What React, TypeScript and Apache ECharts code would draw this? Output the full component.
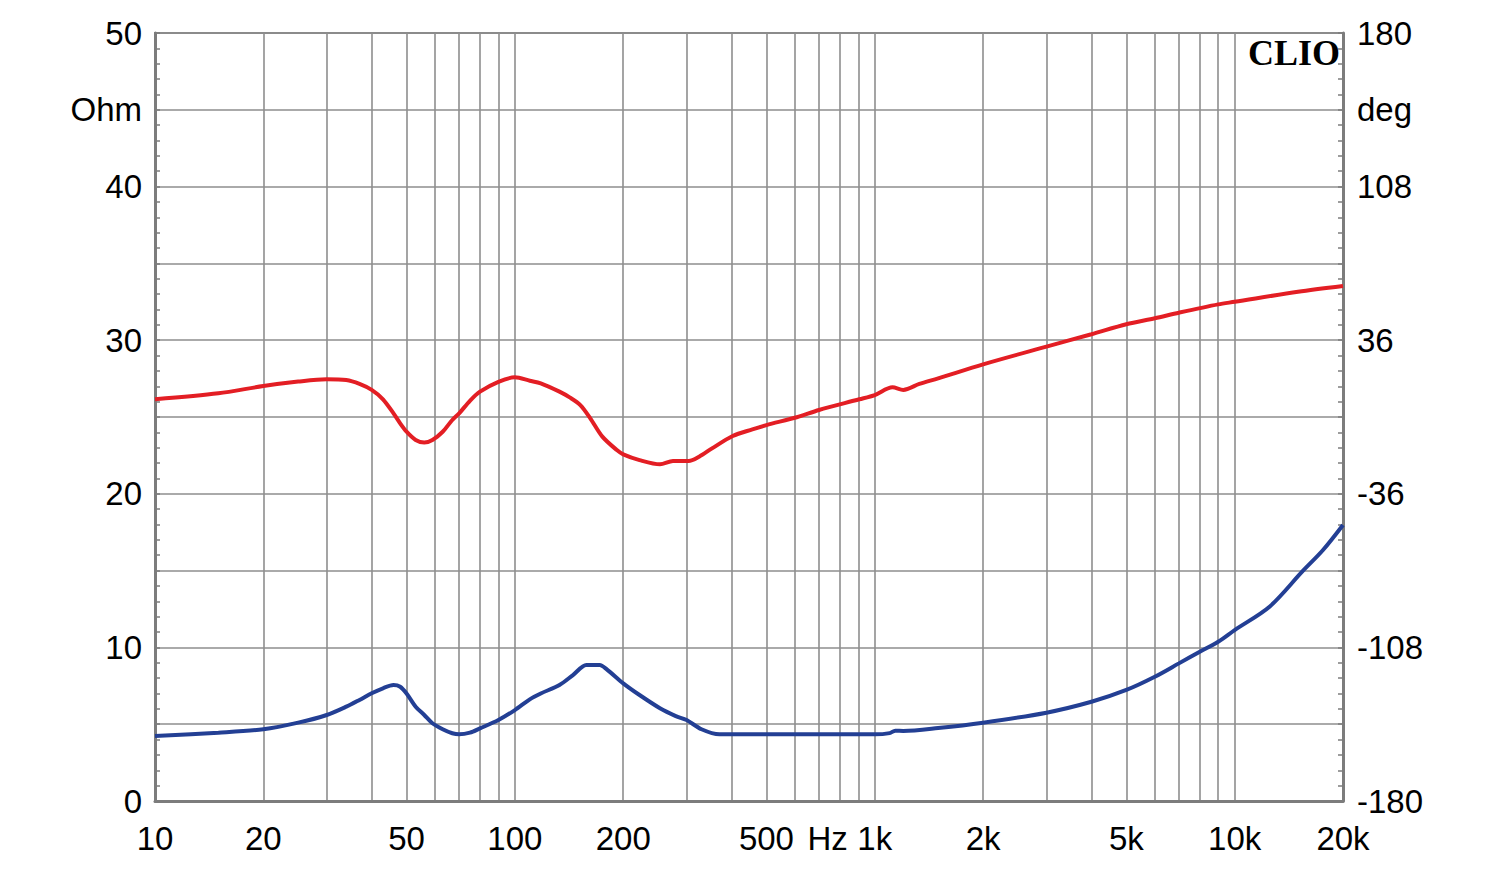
import React, { useEffect, useRef } from "react";
import * as echarts from "echarts";

// Impedance (Ohm) – blue curve, left axis
const impFreq = [10, 15, 20, 25, 30, 34, 37, 40, 43, 46, 48, 50, 53, 56, 59, 63, 67, 70, 75, 80, 90, 100, 110, 118, 133, 145, 158, 172, 180, 200, 222, 253, 280, 300, 330, 370, 500, 700, 1000, 1100, 1140, 1200, 1500, 2000, 3000, 4000, 5000, 6000, 7000, 8000, 9000, 10000, 12500, 15400, 17600, 20000];
const impOhm = [4.23, 4.45, 4.67, 5.1, 5.6, 6.14, 6.58, 7.01, 7.34, 7.55, 7.44, 7.0, 6.14, 5.6, 5.06, 4.67, 4.41, 4.34, 4.45, 4.73, 5.27, 5.92, 6.62, 7.0, 7.55, 8.2, 8.85, 8.85, 8.57, 7.66, 6.9, 6.04, 5.53, 5.27, 4.67, 4.34, 4.34, 4.34, 4.34, 4.42, 4.58, 4.56, 4.75, 5.1, 5.75, 6.46, 7.23, 8.09, 8.96, 9.72, 10.37, 11.13, 12.65, 14.93, 16.34, 17.97];

// Phase (deg) – red curve, right axis
const phaseFreq = [10, 15, 20, 25, 30, 34, 37, 40, 43, 46, 48, 50, 53, 56, 59, 63, 67, 70, 75, 80, 90, 100, 110, 118, 133, 142, 152, 162, 175, 192, 200, 222, 253, 275, 304, 325, 353, 403, 457, 500, 607, 700, 906, 1000, 1120, 1200, 1330, 1500, 2000, 3000, 4000, 5000, 6000, 7000, 9000, 10000, 15000, 20000];
const phaseDeg = [8.3, 11.1, 14.5, 16.6, 17.7, 17.3, 15.5, 12.7, 8.3, 1.7, -3.0, -6.9, -10.8, -12.0, -10.8, -6.9, -1.4, 1.7, 7.6, 11.9, 16.5, 18.6, 17.0, 15.8, 11.9, 9.2, 5.6, -0.6, -9.2, -15.5, -17.5, -20.2, -22.2, -20.6, -20.6, -18.6, -14.7, -8.9, -5.8, -3.8, -0.1, 3.3, 8.3, 10.3, 13.9, 12.7, 15.5, 18.1, 24.7, 33.0, 38.8, 43.5, 46.3, 48.9, 52.8, 54.0, 58.7, 61.4];

// Axis ticks / labels
const gridFreqs = [10, 20, 30, 40, 50, 60, 70, 80, 90, 100, 200, 300, 400, 500, 600, 700, 800, 900, 1000, 2000, 3000, 4000, 5000, 6000, 7000, 8000, 9000, 10000, 20000];
const labelFreqs = [10, 20, 50, 100, 200, 500, 740, 1000, 2000, 5000, 10000, 20000];
const labelText: Record<number, string> = { 10: "10", 20: "20", 50: "50", 100: "100", 200: "200", 500: "500", 740: "Hz", 1000: "1k", 2000: "2k", 5000: "5k", 10000: "10k", 20000: "20k" };

const FONT = "'Liberation Sans', Arial, sans-serif";
const AXIS_GRAY = "#7c7c7c";
const GRID_GRAY = "#8e8e8e";

export default function App() {
  const ref = useRef<HTMLDivElement>(null);
  useEffect(() => {
    if (!ref.current) return;
    const chart = echarts.init(ref.current, null, { renderer: "svg" });
    chart.setOption({
      animation: false,
      backgroundColor: "#ffffff",
      grid: { left: 155, right: 157, top: 33, bottom: 69, show: true, borderColor: "#858585", borderWidth: 2, containLabel: false },
      xAxis: {
        type: "log",
        logBase: 10,
        min: 10,
        max: 20000,
        axisLine: { show: true, lineStyle: { color: AXIS_GRAY, width: 3 } },
        axisTick: { show: false, customValues: gridFreqs },
        splitLine: { show: true, lineStyle: { color: GRID_GRAY, width: 1.6 } },
        axisLabel: {
          customValues: labelFreqs,
          formatter: (v: number) => labelText[Math.round(v)] ?? "",
          color: "#000",
          fontSize: 33,
          fontFamily: FONT,
          margin: 21,
        },
      },
      yAxis: [
        {
          type: "value",
          min: 0,
          max: 50,
          interval: 5,
          position: "left",
          axisLine: { show: true, lineStyle: { color: AXIS_GRAY, width: 3 } },
          axisTick: { show: true, inside: true, length: 5, lineStyle: { color: AXIS_GRAY, width: 1.5 } },
          minorTick: { show: true, splitNumber: 5, length: 5, lineStyle: { color: AXIS_GRAY, width: 1.5 } },
          splitLine: { show: true, lineStyle: { color: GRID_GRAY, width: 1.6 } },
          axisLabel: {
            formatter: (v: number) => (v === 45 ? "Ohm" : v % 10 === 0 ? String(v) : ""),
            color: "#000",
            fontSize: 33,
            fontFamily: FONT,
            margin: 13,
          },
        },
        {
          type: "value",
          min: -180,
          max: 180,
          interval: 36,
          position: "right",
          axisLine: { show: true, lineStyle: { color: AXIS_GRAY, width: 3 } },
          axisTick: { show: true, inside: true, length: 5, lineStyle: { color: AXIS_GRAY, width: 1.5 } },
          minorTick: { show: true, splitNumber: 5, length: 5, lineStyle: { color: AXIS_GRAY, width: 1.5 } },
          splitLine: { show: false },
          axisLabel: {
            formatter: (v: number) => (v === 144 ? "deg" : (v + 180) % 72 === 0 ? String(v) : ""),
            color: "#000",
            fontSize: 33,
            fontFamily: FONT,
            margin: 14,
          },
        },
      ],
      graphic: [
        {
          type: "text",
          right: 160,
          top: 35,
          style: { text: "CLIO", fill: "#000", font: "900 36px 'Liberation Serif', 'DejaVu Serif', serif" },
        },
      ],
      series: [
        {
          name: "Phase",
          type: "line",
          yAxisIndex: 1,
          data: phaseFreq.map((f, i) => [f, phaseDeg[i]]),
          showSymbol: false,
          smooth: 0.3,
          lineStyle: { color: "#e31e24", width: 4 },
          itemStyle: { color: "#e31e24" },
        },
        {
          name: "Impedance",
          type: "line",
          yAxisIndex: 0,
          data: impFreq.map((f, i) => [f, impOhm[i]]),
          showSymbol: false,
          smooth: 0.3,
          lineStyle: { color: "#233f94", width: 4 },
          itemStyle: { color: "#233f94" },
        },
      ],
    });
    return () => chart.dispose();
  }, []);
  return <div ref={ref} style={{ position: "absolute", left: 0, top: 0, width: 1500, height: 870 }} />;
}
